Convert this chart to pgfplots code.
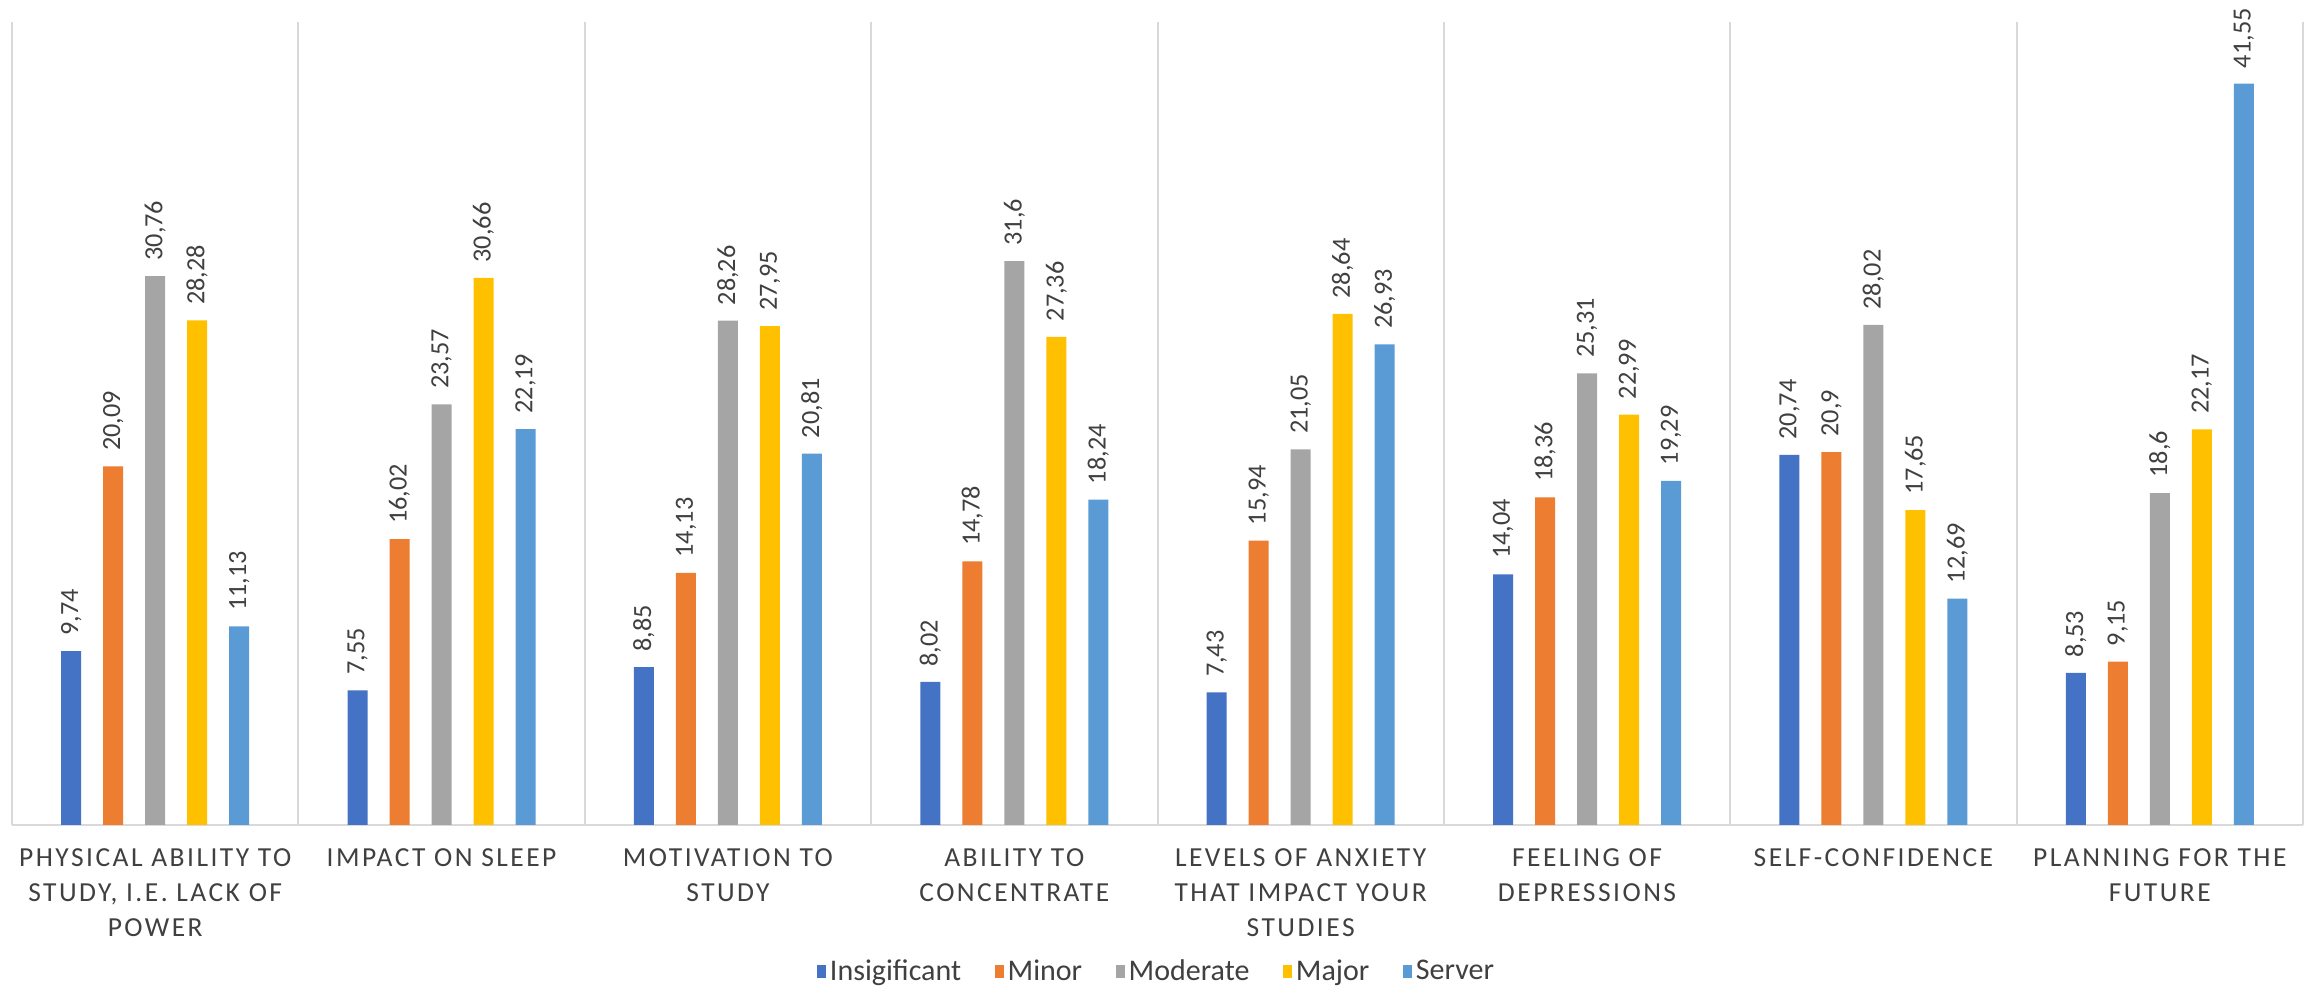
\documentclass[border=0pt]{standalone}
\usepackage{pgfplots}
\pgfplotsset{compat=1.18}
\usepackage{fontspec}
\setmainfont{Carlito}
\newfontfamily\catfont[LetterSpace=9]{Carlito}
\definecolor{cIns}{HTML}{4472C4}
\definecolor{cMin}{HTML}{ED7D31}
\definecolor{cMod}{HTML}{A5A5A5}
\definecolor{cMaj}{HTML}{FFC000}
\definecolor{cSer}{HTML}{5B9BD5}
\definecolor{txt}{HTML}{404040}
\definecolor{gridc}{HTML}{D9D9D9}
\begin{document}
\begin{tikzpicture}
\useasboundingbox (0,0) rectangle (924pt,398.4pt);
\begin{axis}[
  at={(4.8pt,68.4pt)}, anchor=south west,
  width=916.4pt, height=321.2pt, scale only axis,
  ybar=8.8pt, bar width=8pt,
  xmin=-0.5, xmax=7.5, ymin=0, ymax=45,
  xtick={0,...,7},
  xticklabels={{PHYSICAL ABILITY TO\\STUDY, I.E. LACK OF\\POWER},
    {IMPACT ON SLEEP},
    {MOTIVATION TO\\STUDY},
    {ABILITY TO\\CONCENTRATE},
    {LEVELS OF ANXIETY\\THAT IMPACT YOUR\\STUDIES},
    {FEELING OF\\DEPRESSIONS},
    {SELF-CONFIDENCE},
    {PLANNING FOR THE\\FUTURE}},
  minor xtick={-0.5,0.5,...,7.5},
  xminorgrids, minor grid style={draw=gridc, line width=0.8pt},
  major tick length=0pt, minor tick length=0pt,
  axis x line*=bottom, axis y line=none, ytick=\empty,
  x axis line style={draw=gridc, line width=0.8pt, -},
  xticklabel style={font=\catfont\fontsize{11}{14}\selectfont, text=txt, align=center, yshift=-6pt},
  nodes near coords={\pgfmathprintnumber[assume math mode=true,use comma,precision=2]{\pgfplotspointmeta}},
  every node near coord/.append style={rotate=90, anchor=west, font=\fontsize{10.5}{12}\selectfont, text=txt, inner xsep=6pt},
  legend columns=5,
  legend style={at={(0.5,-0.183)}, anchor=center, draw=none, font=\fontsize{12}{14}\selectfont, text=txt,
    nodes={inner xsep=1.5pt}},
  legend image code/.code={\fill[#1,draw=none] (0pt,-2.6pt) rectangle (3.6pt,2.6pt);},
]
\addplot[fill=cIns, draw=none] coordinates {(0,9.74) (1,7.55) (2,8.85) (3,8.02) (4,7.43) (5,14.04) (6,20.74) (7,8.53)};
\addlegendentry{Insigificant\hspace*{12pt}}
\addplot[fill=cMin, draw=none] coordinates {(0,20.09) (1,16.02) (2,14.13) (3,14.78) (4,15.94) (5,18.36) (6,20.9) (7,9.15)};
\addlegendentry{Minor\hspace*{12pt}}
\addplot[fill=cMod, draw=none] coordinates {(0,30.76) (1,23.57) (2,28.26) (3,31.6) (4,21.05) (5,25.31) (6,28.02) (7,18.6)};
\addlegendentry{Moderate\hspace*{12pt}}
\addplot[fill=cMaj, draw=none] coordinates {(0,28.28) (1,30.66) (2,27.95) (3,27.36) (4,28.64) (5,22.99) (6,17.65) (7,22.17)};
\addlegendentry{Major\hspace*{12pt}}
\addplot[fill=cSer, draw=none] coordinates {(0,11.13) (1,22.19) (2,20.81) (3,18.24) (4,26.93) (5,19.29) (6,12.69) (7,41.55)};
\addlegendentry{Server}
\end{axis}
\end{tikzpicture}
\end{document}
